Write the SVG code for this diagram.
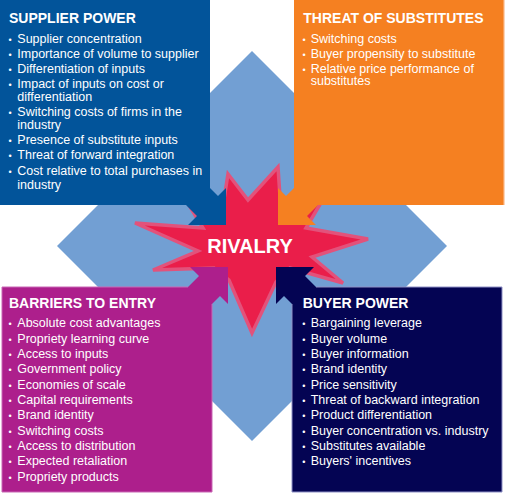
<svg xmlns="http://www.w3.org/2000/svg" width="519" height="500" viewBox="0 0 519 500">
<style>
text{font-family:"Liberation Sans",Arial,sans-serif;fill:#ffffff}
.t{font-size:14px;font-weight:bold}
.i{font-size:12.5px}
.d{font-size:9px}
.r{font-size:20px;font-weight:bold;text-anchor:middle}
</style>
<rect width="519" height="500" fill="#ffffff"/>
<g id="connectors">
<polygon points="57,246 252,51 447,246 252,441" fill="#729fd3"/>
</g>
<g id="rivalry-star">
<polygon points="228,174 248,200 278,167 281,212 322,201 306,228 368,239 312,257 343,283 290,268 276,282 252,333 229,280 214,268 153,270 198,251 135,223 203,228 187,202 222,212" fill="#ea1e4a" stroke="#e2527b" stroke-width="3.5" stroke-linejoin="miter"/>
</g>
<g id="supplier-power">
<polygon points="0,0 210,0 210,188 218,196 226,188 226,225 188,225 197,216 186,205 0,205" fill="#02549a"/>
<text class="t" x="9" y="22.7">SUPPLIER POWER</text>
<g class="d"><text x="8.5" y="42.7">•</text><text x="8.5" y="58.1">•</text><text x="8.5" y="73.4">•</text><text x="8.5" y="88">•</text><text x="8.5" y="116">•</text><text x="8.5" y="143.8">•</text><text x="8.5" y="159.1">•</text><text x="8.5" y="174.5">•</text></g>
<g class="i">
<text x="17.3" y="42.7">Supplier concentration</text>
<text x="17.3" y="58.1">Importance of volume to supplier</text>
<text x="17.3" y="73.4">Differentiation of inputs</text>
<text x="17.3" y="88">Impact of inputs on cost or</text>
<text x="17.3" y="100.7">differentiation</text>
<text x="17.3" y="116">Switching costs of firms in the</text>
<text x="17.3" y="128.7">industry</text>
<text x="17.3" y="143.8">Presence of substitute inputs</text>
<text x="17.3" y="159.1">Threat of forward integration</text>
<text x="17.3" y="174.5">Cost relative to total purchases in</text>
<text x="17.3" y="188.7">industry</text>
</g>
</g>
<g id="threat-of-substitutes">
<polygon points="504,0 294,0 294,188 286,196 278,188 278,225 316,225 307,216 318,205 504,205" fill="#f58021"/>
<line x1="504" y1="0" x2="504" y2="205" stroke="#fbb989" stroke-width="1.2"/>
<text class="t" x="303.3" y="22.7">THREAT OF SUBSTITUTES</text>
<g class="d"><text x="302.5" y="42.7">•</text><text x="302.5" y="57.7">•</text><text x="302.5" y="72.7">•</text></g>
<g class="i">
<text x="310.7" y="42.7">Switching costs</text>
<text x="310.7" y="57.7">Buyer propensity to substitute</text>
<text x="310.7" y="72.7">Relative price performance of</text>
<text x="310.7" y="85.3">substitutes</text>
</g>
</g>
<g id="barriers-to-entry">
<polygon points="2,492 212,492 212,304 220,296 228,304 228,267 190,267 199,276 188,287 2,287" fill="#ad1f8c"/>
<polyline points="188,287 2,287 2,492 212,492 212,304" fill="none" stroke="#c867b4" stroke-width="1"/>
<text class="t" x="9" y="307.7">BARRIERS TO ENTRY</text>
<g class="d"><text x="8.5" y="327.3">•</text><text x="8.5" y="342.7">•</text><text x="8.5" y="358">•</text><text x="8.5" y="373.3">•</text><text x="8.5" y="388.7">•</text><text x="8.5" y="404">•</text><text x="8.5" y="419.3">•</text><text x="8.5" y="434.7">•</text><text x="8.5" y="450">•</text><text x="8.5" y="465.3">•</text><text x="8.5" y="480.7">•</text></g>
<g class="i">
<text x="17.3" y="327.3">Absolute cost advantages</text>
<text x="17.3" y="342.7">Propriety learning curve</text>
<text x="17.3" y="358">Access to inputs</text>
<text x="17.3" y="373.3">Government policy</text>
<text x="17.3" y="388.7">Economies of scale</text>
<text x="17.3" y="404">Capital requirements</text>
<text x="17.3" y="419.3">Brand identity</text>
<text x="17.3" y="434.7">Switching costs</text>
<text x="17.3" y="450">Access to distribution</text>
<text x="17.3" y="465.3">Expected retaliation</text>
<text x="17.3" y="480.7">Propriety products</text>
</g>
</g>
<g id="buyer-power">
<polygon points="502,492 292,492 292,304 284,296 276,304 276,267 314,267 305,276 316,287 502,287" fill="#040453"/>
<polyline points="316,287 502,287 502,492 292,492 292,304" fill="none" stroke="#8e90c6" stroke-width="1"/>
<text class="t" x="302.7" y="307.7">BUYER POWER</text>
<g class="d"><text x="302.3" y="327.3">•</text><text x="302.3" y="342.7">•</text><text x="302.3" y="358">•</text><text x="302.3" y="373.3">•</text><text x="302.3" y="388.7">•</text><text x="302.3" y="404">•</text><text x="302.3" y="419.3">•</text><text x="302.3" y="434.7">•</text><text x="302.3" y="450">•</text><text x="302.3" y="465.3">•</text></g>
<g class="i">
<text x="310.7" y="327.3">Bargaining leverage</text>
<text x="310.7" y="342.7">Buyer volume</text>
<text x="310.7" y="358">Buyer information</text>
<text x="310.7" y="373.3">Brand identity</text>
<text x="310.7" y="388.7">Price sensitivity</text>
<text x="310.7" y="404">Threat of backward integration</text>
<text x="310.7" y="419.3">Product differentiation</text>
<text x="310.7" y="434.7">Buyer concentration vs. industry</text>
<text x="310.7" y="450">Substitutes available</text>
<text x="310.7" y="465.3">Buyers' incentives</text>
</g>
</g>
<g id="rivalry-label">
<text class="r" x="250" y="253">RIVALRY</text>
</g>
</svg>
